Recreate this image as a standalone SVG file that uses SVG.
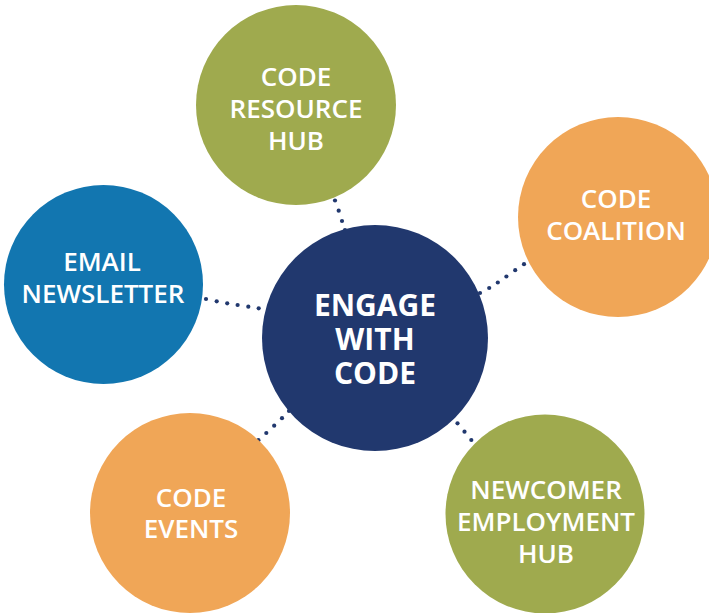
<svg xmlns="http://www.w3.org/2000/svg" width="709" height="613" viewBox="0 0 709 613">
  <style>
    .lbl { font-family: "Open Sans", "Liberation Sans", sans-serif; font-weight: 600; font-size: 26px; fill: #ffffff; text-anchor: middle; }
    .main { font-family: "Open Sans", "Liberation Sans", sans-serif; font-weight: 700; font-size: 30px; fill: #ffffff; text-anchor: middle; }
    .dot { fill: #21386e; }
    .green { fill: #9faa4e; }
    .orange { fill: #f0a657; }
    .blue { fill: #1276b0; }
    .navy { fill: #21386e; }
  </style>
  <rect width="709" height="613" fill="#ffffff"/>
  <g id="connectors">
    <circle class="dot" cx="335" cy="200.5" r="2.1"/>
    <circle class="dot" cx="338.7" cy="210.7" r="2.1"/>
    <circle class="dot" cx="342" cy="221" r="2.1"/>
    <circle class="dot" cx="345" cy="230" r="2.1"/>

    <circle class="dot" cx="206" cy="299" r="2.1"/>
    <circle class="dot" cx="216.7" cy="301.3" r="2.1"/>
    <circle class="dot" cx="227.2" cy="303.3" r="2.1"/>
    <circle class="dot" cx="237.6" cy="305" r="2.1"/>
    <circle class="dot" cx="248.3" cy="306.7" r="2.1"/>
    <circle class="dot" cx="258.7" cy="308.3" r="2.1"/>

    <circle class="dot" cx="480" cy="293" r="2.1"/>
    <circle class="dot" cx="489.2" cy="288" r="2.1"/>
    <circle class="dot" cx="497.8" cy="282.5" r="2.1"/>
    <circle class="dot" cx="506.4" cy="276.5" r="2.1"/>
    <circle class="dot" cx="515.2" cy="270.2" r="2.1"/>
    <circle class="dot" cx="524" cy="264.2" r="2.1"/>

    <circle class="dot" cx="289" cy="411" r="2.1"/>
    <circle class="dot" cx="282" cy="418.2" r="2.1"/>
    <circle class="dot" cx="274.2" cy="425.7" r="2.1"/>
    <circle class="dot" cx="266.3" cy="433" r="2.1"/>
    <circle class="dot" cx="258.4" cy="440.2" r="2.1"/>

    <circle class="dot" cx="457.5" cy="423.3" r="2.1"/>
    <circle class="dot" cx="464.5" cy="431.7" r="2.1"/>
    <circle class="dot" cx="471.3" cy="440" r="2.1"/>
  </g>
  <g id="node-engage">
    <circle class="navy" cx="375" cy="338" r="113"/>
    <text class="main"><tspan x="375" y="316">ENGAGE</tspan><tspan x="375" y="350">WITH</tspan><tspan x="375" y="384">CODE</tspan></text>
  </g>
  <g id="node-resource-hub">
    <circle class="green" cx="296" cy="105" r="100"/>
    <text class="lbl"><tspan x="296" y="86">CODE</tspan><tspan x="296" y="118">RESOURCE</tspan><tspan x="296" y="150">HUB</tspan></text>
  </g>
  <g id="node-coalition">
    <circle class="orange" cx="618" cy="217" r="100"/>
    <text class="lbl"><tspan x="616" y="208">CODE</tspan><tspan x="616" y="240">COALITION</tspan></text>
  </g>
  <g id="node-newsletter">
    <circle class="blue" cx="103.5" cy="284.5" r="99.5"/>
    <text class="lbl"><tspan x="102" y="271">EMAIL</tspan><tspan x="103" y="303">NEWSLETTER</tspan></text>
  </g>
  <g id="node-events">
    <circle class="orange" cx="190" cy="513" r="100"/>
    <text class="lbl"><tspan x="191" y="507">CODE</tspan><tspan x="191" y="538">EVENTS</tspan></text>
  </g>
  <g id="node-employment-hub">
    <circle class="green" cx="545" cy="514" r="99.5"/>
    <text class="lbl"><tspan x="546" y="499">NEWCOMER</tspan><tspan x="546" y="531">EMPLOYMENT</tspan><tspan x="546" y="563">HUB</tspan></text>
  </g>
</svg>
